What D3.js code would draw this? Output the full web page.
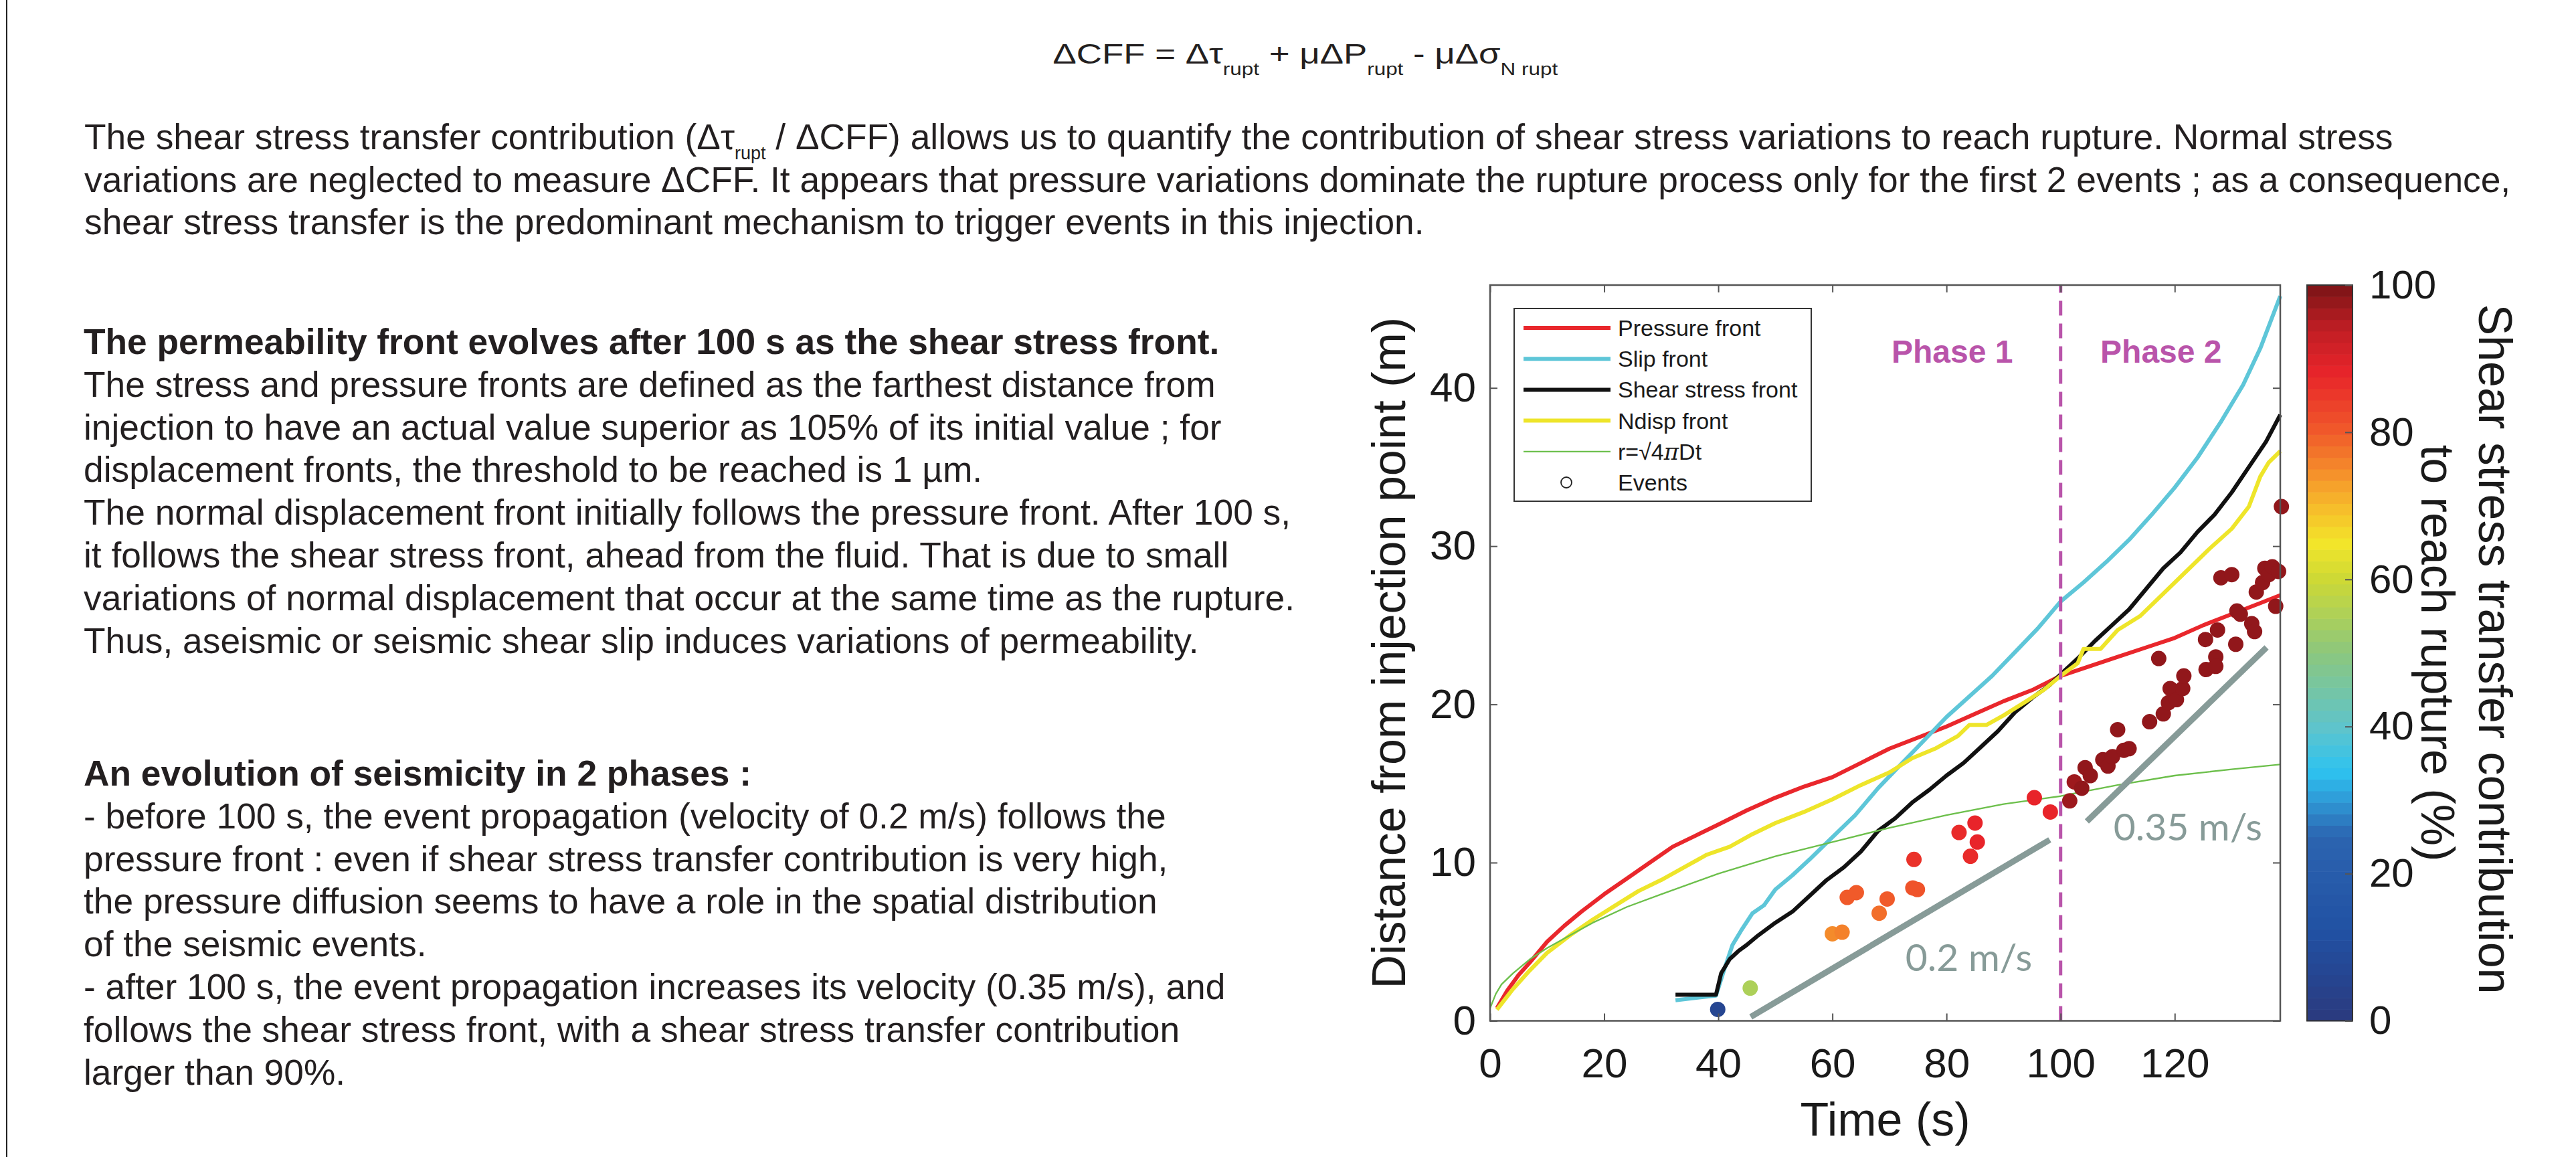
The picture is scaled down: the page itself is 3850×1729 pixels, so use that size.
<!DOCTYPE html>
<html>
<head>
<meta charset="utf-8">
<script src="https://cdn.jsdelivr.net/npm/d3@7"></script>
<style>
  html, body { margin: 0; padding: 0; background: #fff; }
  svg text { font-family: "Liberation Sans", Arial, Helvetica, sans-serif; }
</style>
</head>
<body>
<svg id="fig" width="3850" height="1729"></svg>
<script>
// ---------- values ----------
var xTicks = [0, 20, 40, 60, 80, 100, 120];
var yTicks = [0, 10, 20, 30, 40];
var cbTicks = [0, 20, 40, 60, 80, 100];

// fronts: [time (s), distance (m)]
var pressureFront = [[1.2,0.8],[3,1.9],[5,2.9],[7,3.7],[10,5.0],[13,6.0],[16,6.9],[20,8.0],[24,9.0],[28,10.0],[32,11.0],[36,11.7],[40,12.4],[45,13.3],[50,14.1],[55,14.8],[60,15.4],[65,16.3],[70,17.2],[75,17.9],[80,18.6],[85,19.4],[90,20.2],[95,20.9],[100,21.8],[105,22.4],[110,23.0],[115,23.6],[120,24.2],[125,25.0],[130,25.7],[135,26.4],[138.5,26.9]];
var slipFront = [[32.5,1.3],[39.6,1.6],[41,3.2],[42.5,4.8],[44,5.7],[46,6.8],[48,7.3],[50,8.3],[53,9.2],[56,10.2],[60,11.6],[64,13.0],[68,14.7],[72,16.2],[76,17.7],[80,19.2],[84,20.5],[88,21.8],[92,23.3],[96,24.8],[100,26.5],[104,27.7],[108,29.0],[112,30.4],[116,32.0],[120,33.7],[124,35.6],[128,37.8],[132,40.2],[135,42.5],[138.5,45.8]];
var shearFront = [[32.5,1.65],[39.6,1.65],[40.5,3.0],[42,3.9],[43.5,4.4],[45,4.8],[47,5.4],[50,6.2],[53,6.9],[56,7.9],[59,8.9],[62,9.7],[65,10.7],[68,12.0],[71,12.8],[74,13.8],[77,14.6],[80,15.5],[83,16.3],[86,17.3],[89,18.3],[92,19.5],[95,20.4],[98,21.2],[100,21.9],[103,22.9],[106,24.0],[109,25.0],[112,26.0],[115,27.3],[118,28.6],[121,29.6],[124,30.9],[127,32.0],[130,33.4],[133,35.0],[136,36.6],[138.5,38.3]];
var ndispFront = [[1.2,0.7],[4,2.0],[7,3.2],[10,4.3],[14,5.4],[18,6.4],[22,7.3],[26,8.2],[30,8.9],[34,9.7],[38,10.5],[42,11.0],[46,11.8],[50,12.5],[55,13.2],[60,14.0],[65,14.9],[70,15.7],[74,16.6],[78,17.2],[82,18.0],[84,18.7],[87,18.7],[90,19.3],[94,20.2],[97,20.9],[100,21.8],[103,22.6],[104,23.5],[107,23.5],[110,24.7],[114,25.6],[118,27.0],[122,28.4],[126,29.8],[130,31.1],[133,32.5],[135,34.4],[136.5,35.3],[138.5,36.0]];
var diffusionRadius = [[0,0.8],[1,1.7],[2,2.3],[4,3.0],[7,3.9],[10,4.6],[14,5.4],[18,6.2],[24,7.2],[30,8.0],[40,9.3],[50,10.4],[60,11.3],[70,12.2],[80,13.0],[90,13.7],[100,14.2],[110,14.9],[120,15.5],[130,15.9],[138.5,16.2]];

// events: [time (s), distance (m), shear stress transfer contribution (%)]
var events = [[39.9,0.72,6],[45.6,2.07,55],[60.0,5.5,75],[61.7,5.6,76],[62.6,7.8,80],[64.2,8.1,80],[68.2,6.8,78],[69.6,7.7,80],[74.1,8.4,81],[74.9,8.3,81],[74.3,10.2,86],[82.2,11.9,87],[85.0,12.5,88],[85.4,11.3,88],[84.2,10.4,87],[95.4,14.1,88],[98.2,13.2,88],[101.6,13.9,97],[102.4,15.1,97],[103.7,14.7,98],[104.3,16.0,98],[105.2,15.5,98],[107.4,16.5,98],[108.3,16.1,98],[109.1,16.7,98],[110.0,18.4,98],[111.1,17.1,98],[112.0,17.2,98],[115.6,18.9,98],[117.2,22.9,98],[118.0,19.4,98],[118.9,20.1,98],[119.2,21.0,98],[120.3,20.3,98],[121.4,21.0,98],[121.6,21.8,98],[125.4,24.1,98],[125.5,22.2,98],[127.2,23.0,98],[127.2,22.4,98],[127.5,24.7,98],[128.1,28.0,98],[130.0,28.2,98],[130.7,23.8,98],[130.9,25.9,98],[131.5,25.7,98],[133.5,25.1,98],[134.0,24.6,98],[134.3,27.1,98],[135.4,27.7,98],[135.8,28.6,98],[136.5,28.2,98],[137.1,28.7,98],[137.7,26.2,98],[138.2,28.4,98],[138.7,32.5,98]];

// velocity guides: [t0, r0, t1, r1], with label and its anchor [t, r]
var guideLines = [[45.7,0.25,98.1,11.44],[104.6,12.6,136.1,23.6]];
var guideLabels = ["0.2 m/s", "0.35 m/s"];
var guideLabelAt = [[83.9,3.15],[122.3,11.4]];

var phaseLabels = ["Phase 1", "Phase 2"];
var phaseLabelAt = [[81.0,41.6],[117.6,41.6]];
var phaseBoundary = 100;

var legendLabels = ["Pressure front", "Slip front", "Shear stress front", "Ndisp front", "r=√4πDt", "Events"];

// colormap of the colorbar (jet-like), value 0..1
var cmapStops = [[0,"#2b3a7e"],[0.12,"#2151a3"],[0.25,"#2c64b0"],[0.3,"#2f9ad7"],[0.34,"#2ec3f0"],[0.4,"#5fc4cb"],[0.5,"#8cc77e"],[0.6,"#cdd935"],[0.65,"#f3e52a"],[0.72,"#f7a82b"],[0.8,"#f05a2a"],[0.88,"#e8242a"],[0.94,"#c01e24"],[1,"#7a1416"]];

// ---------- text ----------
var formula = [["ΔCFF = Δτ",0],["rupt",1],[" + μΔP",0],["rupt",1],[" - μΔσ",0],["N rupt",1]];
var introLines = [
  [["The shear stress transfer contribution (Δτ",0],["rupt",1],[" / ΔCFF) allows us to quantify the contribution of shear stress variations to reach rupture. Normal stress",0]],
  [["variations are neglected to measure ΔCFF. It appears that pressure variations dominate the rupture process only for the first 2 events ; as a consequence,",0]],
  [["shear stress transfer is the predominant mechanism to trigger events in this injection.",0]]
];
var block1 = [
  "The permeability front evolves after 100 s as the shear stress front.",
  "The stress and pressure fronts are defined as the farthest distance from",
  "injection to have an actual value superior as 105% of its initial value ; for",
  "displacement fronts, the threshold to be reached is 1 µm.",
  "The normal displacement front initially follows the pressure front. After 100 s,",
  "it follows the shear stress front, ahead from the fluid. That is due to small",
  "variations of normal displacement that occur at the same time as the rupture.",
  "Thus, aseismic or seismic shear slip induces variations of permeability."
];
var block2 = [
  "An evolution of seismicity in 2 phases :",
  "- before 100 s, the event propagation (velocity of 0.2 m/s) follows the",
  "pressure front : even if shear stress transfer contribution is very high,",
  "the pressure diffusion seems to have a role in the spatial distribution",
  "of the seismic events.",
  "- after 100 s, the event propagation increases its velocity (0.35 m/s), and",
  "follows the shear stress front, with a shear stress transfer contribution",
  "larger than 90%."
];

// ---------- drawing ----------
var svg = d3.select("#fig");
var ink = "#231f20";
var axisInk = "#555";
var bodySize = 53.3;

// page frame line on the left
svg.append("line").attr("x1", 10).attr("x2", 10).attr("y1", 0).attr("y2", 1729)
  .attr("stroke", "#222").attr("stroke-width", 2);

function segText(g, segs, x, y, size, subSize, subDy) {
  var t = g.append("text").attr("x", x).attr("y", y).attr("fill", ink).attr("font-size", size);
  var shifted = false;
  segs.forEach(function(s) {
    var ts = t.append("tspan").text(s[0]);
    if (s[1] && !shifted) { ts.attr("font-size", subSize).attr("dy", subDy); shifted = true; }
    else if (!s[1] && shifted) { ts.attr("dy", -subDy); shifted = false; }
  });
  return t;
}

// formula, stretched horizontally to its width in the figure
var fG = svg.append("g");
var fT = segText(fG, formula, 0, 95, 42, 25, 17).attr("xml:space", "preserve");
var fb = fT.node().getBBox();
fG.attr("transform", "translate(1951,0) scale(" + (755 / fb.width) + ",1) translate(" + (-(fb.x + fb.width / 2)) + ",0)");

introLines.forEach(function(segs, i) {
  segText(svg, segs, 126, 223 + i * 63.5, bodySize, 27, 15).attr("xml:space", "preserve");
});

function block(lines, y0) {
  lines.forEach(function(s, i) {
    svg.append("text").attr("x", 125).attr("y", y0 + i * 63.8)
      .attr("fill", ink).attr("font-size", bodySize)
      .attr("font-weight", i === 0 ? "bold" : "normal")
      .attr("xml:space", "preserve")
      .text(s);
  });
}
block(block1, 529);
block(block2, 1174);

// ---------- chart ----------
var x = d3.scaleLinear().domain([0, 138.5]).range([2227, 3408]);
var y = d3.scaleLinear().domain([0, 46.5]).range([1525.5, 426]);
var cmap = d3.scaleLinear().domain(cmapStops.map(function(d){ return d[0]; }))
  .range(cmapStops.map(function(d){ return d[1]; })).interpolate(d3.interpolateRgb);

var line = d3.line().x(function(d){ return x(d[0]); }).y(function(d){ return y(d[1]); });
var plotG = svg.append("g");
var curves = [
  {data: pressureFront, color: "#e9272c", w: 6},
  {data: slipFront, color: "#5ec6d8", w: 6},
  {data: shearFront, color: "#111111", w: 6},
  {data: ndispFront, color: "#eee52a", w: 6},
  {data: diffusionRadius, color: "#6cbf4b", w: 2.3}
];
curves.forEach(function(c) {
  plotG.append("path").datum(c.data).attr("d", line)
    .attr("fill", "none").attr("stroke", c.color).attr("stroke-width", c.w).attr("stroke-linejoin", "round");
});

// events
plotG.selectAll("circle.ev").data(events).enter().append("circle")
  .attr("class", "ev")
  .attr("cx", function(d){ return x(d[0]); })
  .attr("cy", function(d){ return y(d[1]); })
  .attr("r", 11.5)
  .attr("fill", function(d){ return cmap(d[2] / 100); });

// velocity guides
var guideInk = "#879b98";
plotG.selectAll("line.guide").data(guideLines).enter().append("line")
  .attr("x1", function(d){ return x(d[0]); }).attr("y1", function(d){ return y(d[1]); })
  .attr("x2", function(d){ return x(d[2]); }).attr("y2", function(d){ return y(d[3]); })
  .attr("stroke", guideInk).attr("stroke-width", 9);
guideLabels.forEach(function(s, i) {
  plotG.append("text").attr("x", x(guideLabelAt[i][0])).attr("y", y(guideLabelAt[i][1]))
    .attr("text-anchor", "middle").attr("fill", guideInk)
    .style("font-family", "Lato, 'Open Sans', sans-serif").attr("font-size", 57)
    .text(s);
});

// phase boundary and labels
var phaseInk = "#b954aa";
plotG.append("line").attr("x1", x(phaseBoundary)).attr("x2", x(phaseBoundary))
  .attr("y1", y(0)).attr("y2", y(46.5))
  .attr("stroke", phaseInk).attr("stroke-width", 5).attr("stroke-dasharray", "22,12");
phaseLabels.forEach(function(s, i) {
  plotG.append("text").attr("x", x(phaseLabelAt[i][0])).attr("y", y(phaseLabelAt[i][1]))
    .attr("text-anchor", "middle").attr("fill", phaseInk)
    .attr("font-size", 48).attr("font-weight", "bold").text(s);
});

// axes
function styleAxis(g) {
  g.select(".domain").remove();
  g.selectAll("line").attr("stroke", axisInk).attr("stroke-width", 2);
  g.selectAll("text").attr("fill", "#1a1a1a").style("font-family", "'Liberation Sans', Arial, sans-serif");
}
svg.append("g").attr("transform", "translate(0," + y(0) + ")")
  .call(d3.axisBottom(x).tickValues(xTicks).tickSizeInner(-11).tickSizeOuter(0).tickPadding(40))
  .attr("font-size", 62).call(styleAxis);
svg.append("g").attr("transform", "translate(0," + y(46.5) + ")")
  .call(d3.axisTop(x).tickValues(xTicks).tickSizeInner(-11).tickSizeOuter(0).tickFormat(""))
  .call(styleAxis);
svg.append("g").attr("transform", "translate(" + x(0) + ",0)")
  .call(d3.axisLeft(y).tickValues(yTicks).tickSizeInner(-11).tickSizeOuter(0).tickPadding(21))
  .attr("font-size", 62).call(styleAxis);
svg.append("g").attr("transform", "translate(" + x(138.5) + ",0)")
  .call(d3.axisRight(y).tickValues(yTicks).tickSizeInner(-11).tickSizeOuter(0).tickFormat(""))
  .call(styleAxis);
svg.append("rect").attr("x", x(0)).attr("y", y(46.5)).attr("width", x(138.5) - x(0)).attr("height", y(0) - y(46.5))
  .attr("fill", "none").attr("stroke", axisInk).attr("stroke-width", 2.5);

svg.append("text").attr("x", x(69.25)).attr("y", 1697).attr("text-anchor", "middle")
  .attr("font-size", 70).attr("fill", "#1a1a1a").text("Time (s)");
svg.append("text").attr("transform", "translate(2100," + ((y(0) + y(46.5)) / 2) + ") rotate(-90)")
  .attr("text-anchor", "middle").attr("font-size", 70).attr("fill", "#1a1a1a")
  .text("Distance from injection point (m)");

// legend
var lg = svg.append("g");
lg.append("rect").attr("x", 2263).attr("y", 461).attr("width", 444).attr("height", 288)
  .attr("fill", "#fff").attr("stroke", "#333").attr("stroke-width", 2);
legendLabels.forEach(function(s, i) {
  var cy = 490 + i * 46.2;
  if (i < curves.length) {
    lg.append("line").attr("x1", 2277).attr("x2", 2407).attr("y1", cy).attr("y2", cy)
      .attr("stroke", curves[i].color).attr("stroke-width", curves[i].w);
  } else {
    lg.append("circle").attr("cx", 2341).attr("cy", cy).attr("r", 8)
      .attr("fill", "none").attr("stroke", "#222").attr("stroke-width", 1.8);
  }
  var t = lg.append("text").attr("x", 2418).attr("y", cy + 12).attr("font-size", 34).attr("fill", "#1a1a1a");
  if (s.indexOf("π") >= 0) {
    var parts = s.split("π");
    t.append("tspan").text(parts[0]);
    t.append("tspan").attr("font-style", "italic").style("font-family", "'DejaVu Serif', serif").text("π");
    t.append("tspan").text(parts[1]);
  } else {
    t.text(s);
  }
});

// colorbar
var cb = d3.scaleLinear().domain([0, 100]).range([1525.5, 426]);
var cbX = 3448, cbW = 68, nBands = 64;
var bands = d3.range(nBands);
svg.append("g").selectAll("rect").data(bands).enter().append("rect")
  .attr("x", cbX).attr("width", cbW)
  .attr("y", function(i){ return cb((i + 1) * 100 / nBands); })
  .attr("height", function(i){ return cb(i * 100 / nBands) - cb((i + 1) * 100 / nBands) + 0.6; })
  .attr("fill", function(i){ return cmap((i + 0.5) / nBands); });
svg.append("rect").attr("x", cbX).attr("y", cb(100)).attr("width", cbW).attr("height", cb(0) - cb(100))
  .attr("fill", "none").attr("stroke", "#333").attr("stroke-width", 2);
svg.append("g").attr("transform", "translate(" + (cbX + cbW) + ",0)")
  .call(d3.axisRight(cb).tickValues(cbTicks).tickSizeInner(-11).tickSizeOuter(0).tickPadding(25))
  .attr("font-size", 60).call(styleAxis);
svg.append("text").attr("transform", "translate(3705,970) rotate(90)")
  .attr("text-anchor", "middle").attr("font-size", 70).attr("fill", "#1a1a1a")
  .text("Shear stress transfer contribution");
svg.append("text").attr("transform", "translate(3619,976) rotate(90)")
  .attr("text-anchor", "middle").attr("font-size", 70).attr("fill", "#1a1a1a")
  .text("to reach rupture (%)");
</script>
</body>
</html>
